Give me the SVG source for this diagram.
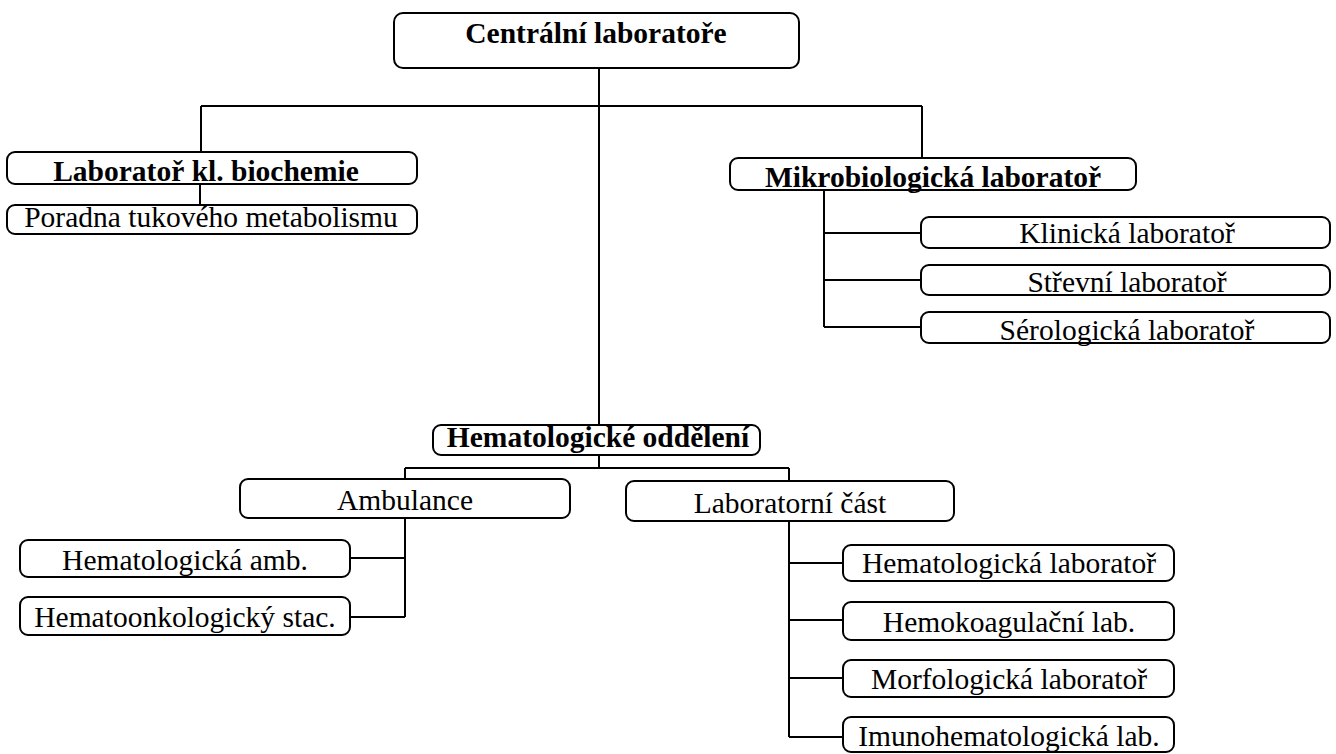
<svg xmlns="http://www.w3.org/2000/svg" width="1336" height="754" viewBox="0 0 1336 754">
<style>
.box{fill:#fff;stroke:#000;stroke-width:2}
.t{font-family:"Liberation Serif","Times New Roman",serif;font-size:29.5px;fill:#000;text-anchor:middle}
.b{font-weight:bold}
.c{fill:none;stroke:#000;stroke-width:2}
</style>
<rect width="1336" height="754" fill="#fff"/>
<g id="connectors">
<path class="c" d="M599 68V425M201 106H922M201 106V152M922 106V158M200 184V205"/>
<path class="c" d="M824 190V327M824 233H921M824 280H921M824 327H921"/>
<path class="c" d="M599 455V468M405 468H789M405 468V479M789 468V481"/>
<path class="c" d="M405 518V617M405 558H350M405 617H350"/>
<path class="c" d="M789 521V737M789 563H843M789 620H843M789 678H843M789 737H843"/>
</g>
<g id="central"><rect class="box" x="394" y="13" width="405" height="55" rx="9"/><text class="t b" x="596" y="43">Centrální laboratoře</text></g>
<g id="biochem"><rect class="box" x="7" y="152" width="410" height="32" rx="8"/><text class="t b" x="206" y="181">Laboratoř kl. biochemie</text></g>
<g id="poradna"><rect class="box" x="7" y="205" width="410" height="29" rx="8"/><text class="t" x="211" y="227">Poradna tukového metabolismu</text></g>
<g id="mikro"><rect class="box" x="730" y="158" width="406" height="32" rx="8"/><text class="t b" x="933" y="187">Mikrobiologická laboratoř</text></g>
<g id="klinicka"><rect class="box" x="921" y="217" width="409" height="31" rx="8"/><text class="t" x="1127" y="243">Klinická laboratoř</text></g>
<g id="strevni"><rect class="box" x="921" y="265" width="409" height="30" rx="8"/><text class="t" x="1127" y="292">Střevní laboratoř</text></g>
<g id="serolog"><rect class="box" x="921" y="312" width="409" height="31" rx="8"/><text class="t" x="1127" y="340">Sérologická laboratoř</text></g>
<g id="hemat"><rect class="box" x="433" y="425" width="327" height="30" rx="8"/><text class="t b" x="598" y="447">Hematologické oddělení</text></g>
<g id="ambulance"><rect class="box" x="240" y="479" width="330" height="39" rx="8"/><text class="t" x="405" y="510">Ambulance</text></g>
<g id="labcast"><rect class="box" x="626" y="481" width="328" height="40" rx="8"/><text class="t" x="790" y="513">Laboratorní část</text></g>
<g id="hemamb"><rect class="box" x="20" y="540" width="330" height="37" rx="8"/><text class="t" x="185" y="570">Hematologická amb.</text></g>
<g id="hemonk"><rect class="box" x="20" y="597" width="330" height="38" rx="8"/><text class="t" x="185" y="627">Hematoonkologický stac.</text></g>
<g id="hemlab"><rect class="box" x="843" y="545" width="331" height="36" rx="8"/><text class="t" x="1009" y="573">Hematologická laboratoř</text></g>
<g id="hemokoag"><rect class="box" x="843" y="602" width="331" height="38" rx="8"/><text class="t" x="1009" y="632">Hemokoagulační lab.</text></g>
<g id="morf"><rect class="box" x="843" y="660" width="331" height="37" rx="8"/><text class="t" x="1009" y="689">Morfologická laboratoř</text></g>
<g id="imuno"><rect class="box" x="843" y="717" width="331" height="35" rx="8"/><text class="t" x="1009" y="746">Imunohematologická lab.</text></g>
</svg>
